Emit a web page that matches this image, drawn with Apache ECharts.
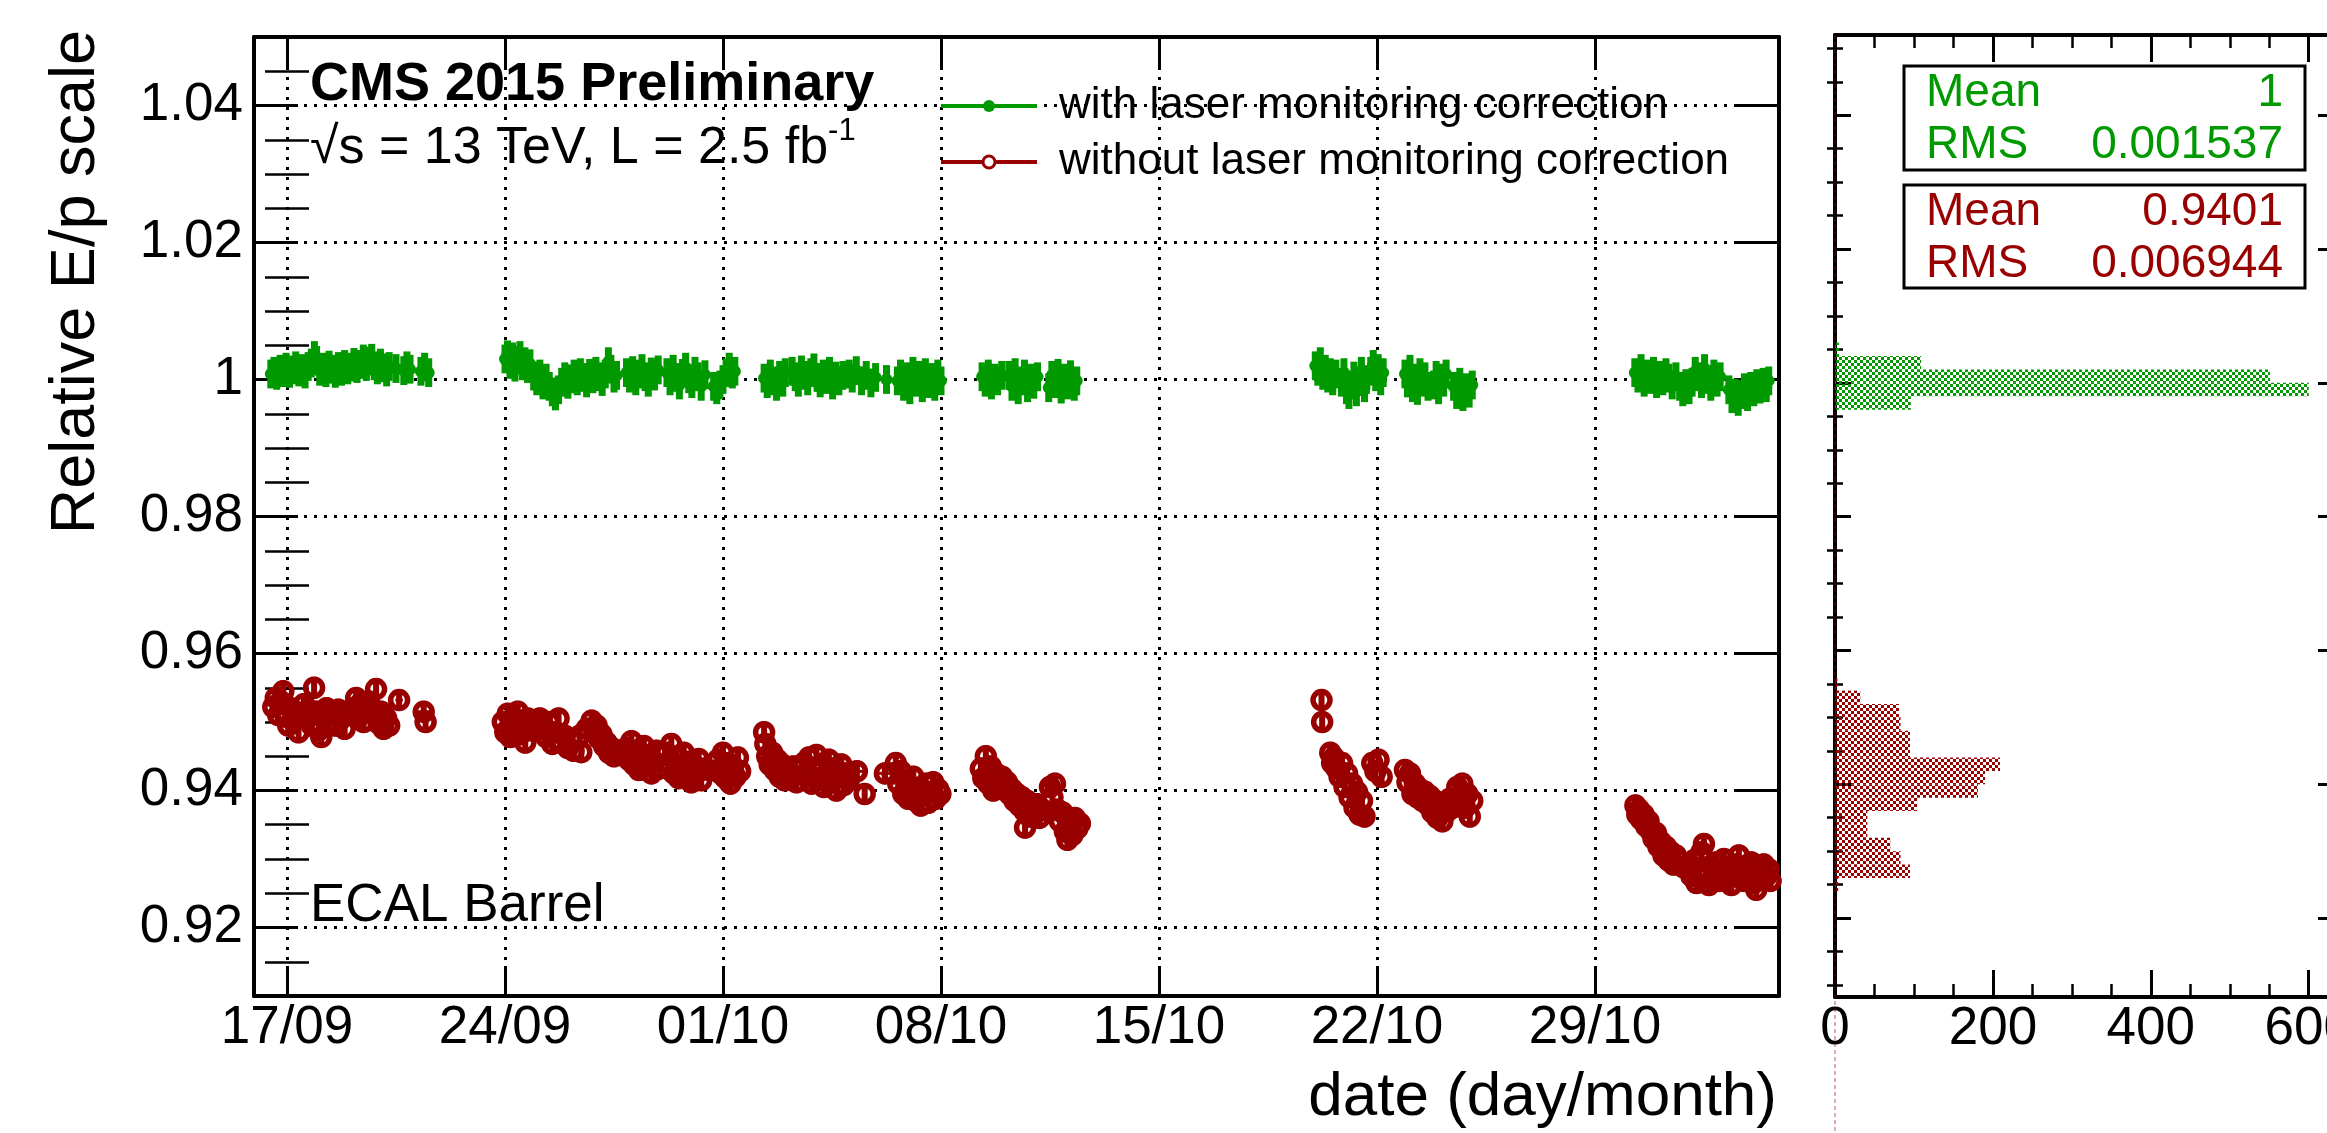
<!DOCTYPE html>
<html><head><meta charset="utf-8">
<script src="https://cdn.jsdelivr.net/npm/echarts@6/dist/echarts.min.js"></script>
<style>html,body{margin:0;padding:0;background:#fff}#c{width:2327px;height:1133px}</style>
</head><body><div id="c"></div>
<script>
// ---------- axes / ticks (days counted from 17/09/2015 00:00) ----------
const TICK_DAYS   = [0, 7, 14, 21, 28, 35, 42];
const TICK_LABELS = ['17/09', '24/09', '01/10', '08/10', '15/10', '22/10', '29/10'];
const X_RANGE = [-1.06, 47.91];
const Y_RANGE = [0.91, 1.05];
const Y_MAJOR = [0.92, 0.94, 0.96, 0.98, 1.00, 1.02, 1.04];
const Y_MINOR = [0.915, 0.925, 0.93, 0.935, 0.945, 0.95, 0.955, 0.965, 0.97, 0.975, 0.985, 0.99, 0.995,
                 1.005, 1.01, 1.015, 1.025, 1.03, 1.035, 1.045];
const HIST_Y_RANGE = [0.9082, 1.0520];
const HIST_Y_MINOR = [0.91, 0.915, 0.925, 0.93, 0.935, 0.945, 0.95, 0.955, 0.965, 0.97, 0.975, 0.985, 0.99, 0.995,
                      1.005, 1.01, 1.015, 1.025, 1.03, 1.035, 1.045, 1.05];
const HIST_X_RANGE = [0, 632];
const HIST_X_INTERVAL = 200;

// ---------- series names, stats ----------
const NAME_GREEN = 'with laser monitoring correction';
const NAME_RED = 'without laser monitoring correction';
const STAT_LABELS = ['Mean', 'RMS'];
const GREEN_STATS = ['1', '0.001537'];
const RED_STATS = ['0.9401', '0.006944'];

// ---------- measurements: [day, E/p, (optional x half-width)] ----------
const GREEN_ERR = 0.0021;
const RED_ERR = 0.0016;

const GREEN_1 = [[-0.52,1.0008],[-0.42,1.0012],[-0.33,1.0006],[-0.22,1.0015],[-0.12,1.0010],[-0.03,1.0018],[0.08,1.0009],[0.18,1.0014],
 [0.28,1.0020],[0.38,1.0011],[0.48,1.0016],[0.58,1.0008],[0.68,1.0019],[0.78,1.0024],[0.88,1.0035],[0.95,1.0028],[1.05,1.0012],
 [1.15,1.0018],[1.25,1.0010],[1.35,1.0021],[1.45,1.0015],[1.55,1.0009],[1.65,1.0019],[1.75,1.0012],[1.85,1.0022],[1.95,1.0014],
 [2.05,1.0018],[2.15,1.0025],[2.25,1.0016],[2.35,1.0022],[2.45,1.0030],[2.55,1.0019],[2.65,1.0027],[2.72,1.0031],[2.80,1.0020],
 [2.90,1.0014],[3.00,1.0024],[3.10,1.0017],[3.20,1.0011],[3.28,1.0019],[3.50,1.0016,0.12],[3.75,1.0013],[3.85,1.0020],[3.95,1.0015],
 [4.30,1.0012],[4.42,1.0018],[4.55,1.0010]];
const GREEN_2 = [[7.00,1.0030],[7.08,1.0036],[7.16,1.0022],[7.24,1.0033],[7.32,1.0018],[7.40,1.0028],[7.48,1.0035],[7.56,1.0020],
 [7.64,1.0026],[7.72,1.0016],[7.80,1.0023],[7.92,1.0005],[8.02,0.9998],[8.12,1.0008],[8.22,0.9992],[8.32,1.0002],[8.42,0.9990],
 [8.52,0.9982],[8.62,0.9976],[8.72,0.9985],[8.82,0.9996],[8.92,1.0004],[9.02,0.9993],[9.12,1.0001],[9.22,1.0008],[9.32,0.9998],
 [9.42,1.0010],[9.52,1.0003],[9.62,0.9995],[9.72,1.0009],[9.82,1.0001],[9.92,1.0012],[10.02,1.0004],[10.12,0.9997],[10.22,1.0008],
 [10.32,1.0026],[10.40,1.0015],[10.50,1.0002],[10.58,1.0006],[10.90,1.0010],[11.00,1.0002],[11.10,1.0013],[11.20,0.9998],
 [11.30,1.0008],[11.40,1.0016],[11.50,1.0004],[11.60,0.9996],[11.70,1.0011],[11.80,1.0005],[11.92,1.0014],[12.20,1.0010],
 [12.30,0.9998],[12.40,1.0015],[12.50,1.0003],[12.60,0.9992],[12.70,1.0009],[12.80,1.0018],[12.90,1.0001],[13.00,0.9994],
 [13.10,1.0012],[13.20,1.0004],[13.30,0.9990],[13.42,1.0007],[13.70,0.9990],[13.80,0.9985],[13.90,0.9992],[14.00,1.0000],
 [14.10,1.0010],[14.20,1.0018],[14.30,1.0008],[14.38,1.0012]];
const GREEN_3 = [[15.32,1.0002],[15.42,0.9994],[15.52,1.0008],[15.62,0.9998],[15.72,0.9990],[15.82,1.0006],[15.92,0.9996],
 [16.00,1.0010],[16.22,1.0012],[16.32,1.0004],[16.42,0.9996],[16.52,1.0014],[16.62,1.0006],[16.72,0.9998],[16.82,1.0010],
 [16.92,1.0017],[17.02,1.0003],[17.12,0.9995],[17.22,1.0008],[17.32,1.0000],[17.42,1.0012],[17.52,0.9992],[17.62,1.0005],
 [17.72,0.9998],[17.85,1.0006],[18.05,1.0008],[18.15,1.0002],[18.28,1.0013,0.1],[18.45,0.9998],[18.60,1.0006],[18.75,0.9995],
 [18.90,1.0003],[19.25,1.0000,0.33],[19.60,0.9998],[19.70,1.0008],[19.80,0.9990],[19.90,1.0004],[20.00,0.9985],[20.10,1.0012],
 [20.20,0.9996],[20.30,1.0006],[20.40,0.9988],[20.50,1.0010],[20.60,0.9994],[20.70,1.0003],[20.80,0.9990],[20.90,1.0008],
 [21.00,0.9998]];
const GREEN_4 = [[22.32,1.0004],[22.42,0.9996],[22.52,1.0008],[22.62,0.9992],[22.72,1.0002],[22.82,0.9998],[22.95,1.0006],
 [23.18,1.0006],[23.28,0.9990],[23.38,1.0010],[23.48,0.9985],[23.58,0.9998],[23.68,1.0008],[23.78,0.9988],[23.88,1.0002],
 [23.98,0.9993],[24.10,1.0004],[24.46,0.9988],[24.56,1.0006],[24.66,0.9994],[24.76,1.0009],[24.86,0.9986],[24.96,1.0002],
 [25.06,0.9992],[25.16,1.0007],[25.28,0.9990],[25.36,0.9998]];
const GREEN_5 = [[33.02,1.0020],[33.10,1.0012],[33.18,1.0026],[33.26,1.0006],[33.34,1.0015],[33.42,1.0002],[33.50,1.0010],
 [33.58,0.9998],[33.68,1.0008],[33.86,0.9996],[33.94,1.0010],[34.02,0.9985],[34.10,0.9978],[34.18,0.9992],[34.26,1.0005],
 [34.34,0.9982],[34.42,0.9998],[34.50,1.0012],[34.60,0.9988],[34.66,1.0000],[34.80,1.0012],[34.88,1.0022],[34.96,1.0004],
 [35.04,1.0016],[35.12,0.9998],[35.20,1.0010]];
const GREEN_6 = [[35.90,1.0008],[35.98,0.9995],[36.06,1.0015],[36.14,0.9988],[36.22,1.0002],[36.30,0.9984],[36.38,1.0010],
 [36.46,0.9996],[36.54,1.0004],[36.64,0.9990],[36.82,0.9992],[36.90,1.0006],[36.98,0.9985],[37.06,1.0002],[37.14,0.9996],
 [37.22,1.0008],[37.46,0.9990],[37.56,0.9978],[37.66,0.9996],[37.76,0.9975],[37.86,0.9988],[37.96,0.9980],[38.06,0.9992]];
const GREEN_7 = [[43.28,1.0010],[43.38,1.0002],[43.48,1.0016],[43.58,0.9996],[43.68,1.0008],[43.78,1.0000],[43.88,1.0012],
 [43.98,0.9994],[44.08,1.0006],[44.18,0.9998],[44.28,1.0010],[44.38,1.0002],[44.48,0.9992],[44.60,1.0004],[44.72,0.9990],
 [44.82,0.9982],[44.92,0.9994],[45.02,0.9985],[45.12,0.9996],[45.22,1.0012],[45.32,1.0004],[45.42,0.9994],[45.52,1.0016],
 [45.62,1.0000],[45.72,0.9990],[45.82,1.0008],[45.92,0.9996],[46.02,1.0004],[46.30,0.9985],[46.40,0.9972],[46.50,0.9980],
 [46.60,0.9968],[46.70,0.9978],[46.80,0.9988],[46.90,0.9975],[47.00,0.9990],[47.10,0.9982],[47.20,0.9994],[47.30,0.9986],
 [47.40,0.9996],[47.50,0.9988],[47.58,0.9998]];

const RED_1 = [[-0.44,0.9522],[-0.36,0.9535],[-0.28,0.9510],[-0.20,0.9530],[-0.12,0.9545],[-0.04,0.9508],[0.04,0.9495],
 [0.12,0.9520],[0.20,0.9502],[0.28,0.9515],[0.37,0.9485],[0.45,0.9512],[0.54,0.9526],[0.62,0.9505],[0.70,0.9518],[0.80,0.9495],
 [0.87,0.9550],[0.95,0.9515],[1.02,0.9488],[1.10,0.9478],[1.18,0.9508],[1.27,0.9520],[1.36,0.9500],[1.45,0.9512],[1.55,0.9495],
 [1.65,0.9518],[1.75,0.9505],[1.85,0.9490],[1.95,0.9512],[2.14,0.9520],[2.22,0.9535],[2.30,0.9508],[2.38,0.9528],[2.46,0.9500],
 [2.54,0.9518],[2.62,0.9530],[2.70,0.9522],[2.78,0.9512],[2.86,0.9548],[2.94,0.9498],[3.02,0.9515],[3.10,0.9490],[3.18,0.9506],
 [3.28,0.9495],[3.60,0.9532,0.12],[4.39,0.9515,0.3],[4.45,0.9500]];
const RED_2 = [[6.93,0.9500],[7.01,0.9485],[7.09,0.9512],[7.17,0.9478],[7.25,0.9505],[7.33,0.9490],[7.41,0.9515],[7.49,0.9482],
 [7.57,0.9498],[7.65,0.9470],[7.73,0.9505],[7.81,0.9488],[7.90,0.9495],[8.12,0.9505],[8.22,0.9490],[8.32,0.9478],[8.42,0.9500],
 [8.52,0.9468],[8.62,0.9485],[8.72,0.9505],[8.82,0.9470],[8.92,0.9480],[9.02,0.9462],[9.12,0.9475],[9.20,0.9458],[9.40,0.9480],
 [9.45,0.9456],[9.62,0.9490],[9.78,0.9502],[9.86,0.9488],[9.94,0.9495],[10.02,0.9476],[10.10,0.9482],[10.18,0.9465],[10.26,0.9470],
 [10.34,0.9455],[10.42,0.9462],[10.50,0.9450],[10.60,0.9458],[10.90,0.9462],[10.98,0.9445],[11.06,0.9472],[11.14,0.9438],
 [11.22,0.9455],[11.30,0.9430],[11.38,0.9448],[11.46,0.9465],[11.54,0.9435],[11.62,0.9452],[11.70,0.9425],[11.78,0.9442],
 [11.86,0.9458],[11.95,0.9432],[12.18,0.9455],[12.26,0.9440],[12.34,0.9468],[12.42,0.9425],[12.50,0.9448],[12.58,0.9418],
 [12.66,0.9438],[12.74,0.9455],[12.82,0.9420],[12.90,0.9442],[12.98,0.9412],[13.06,0.9435],[13.14,0.9425],[13.22,0.9446],
 [13.30,0.9415],[13.40,0.9432],[13.55,0.9430,0.12],[13.84,0.9445],[13.92,0.9425],[14.00,0.9455],[14.08,0.9418],[14.16,0.9440],
 [14.24,0.9410],[14.32,0.9435],[14.40,0.9420],[14.48,0.9448],[14.55,0.9428]];
const RED_3 = [[15.32,0.9485],[15.36,0.9468],[15.42,0.9450],[15.50,0.9438],[15.58,0.9455],[15.66,0.9430],[15.74,0.9445],
 [15.82,0.9420],[15.90,0.9438],[15.98,0.9415],[16.06,0.9432],[16.16,0.9418],[16.26,0.9435],[16.36,0.9412],[16.60,0.9440],
 [16.68,0.9420],[16.76,0.9448],[16.84,0.9410],[16.92,0.9430],[17.00,0.9452],[17.08,0.9415],[17.16,0.9438],[17.24,0.9405],
 [17.32,0.9425],[17.40,0.9445],[17.48,0.9412],[17.56,0.9432],[17.64,0.9400],[17.72,0.9420],[17.80,0.9438],[17.88,0.9408],
 [17.96,0.9425],[18.04,0.9415],[18.30,0.9428,0.2],[18.55,0.9395],[19.20,0.9425,0.3],[19.45,0.9425],[19.55,0.9440],[19.63,0.9410],
 [19.71,0.9428],[19.79,0.9395],[19.87,0.9415],[19.95,0.9388],[20.03,0.9405],[20.11,0.9420],[20.19,0.9385],[20.27,0.9400],
 [20.35,0.9378],[20.43,0.9395],[20.51,0.9410],[20.59,0.9382],[20.67,0.9398],[20.75,0.9412],[20.83,0.9388],[20.91,0.9402],
 [20.98,0.9395]];
const RED_4 = [[22.28,0.9432],[22.36,0.9418],[22.44,0.9450],[22.52,0.9410],[22.60,0.9435],[22.68,0.9400],[22.76,0.9425],
 [22.84,0.9405],[22.96,0.9420],[23.04,0.9405],[23.12,0.9412],[23.20,0.9395],[23.28,0.9402],[23.36,0.9385],[23.44,0.9395],
 [23.52,0.9378],[23.60,0.9390],[23.68,0.9370],[23.70,0.9346],[23.76,0.9385],[23.84,0.9362],[23.92,0.9378],[24.00,0.9365],
 [24.08,0.9380],[24.16,0.9360],[24.26,0.9372],[24.50,0.9405],[24.58,0.9390],[24.66,0.9410],[24.74,0.9372],[24.82,0.9355],
 [24.90,0.9368],[24.98,0.9340],[25.06,0.9328],[25.14,0.9350],[25.22,0.9335],[25.30,0.9360],[25.38,0.9345],[25.46,0.9352]];
const RED_5 = [[33.22,0.9532],[33.24,0.9500],[33.50,0.9455],[33.56,0.9440],[33.62,0.9448],[33.70,0.9432],[33.80,0.9420],
 [33.88,0.9440],[33.96,0.9405],[34.04,0.9425],[34.12,0.9390],[34.20,0.9410],[34.28,0.9375],[34.36,0.9398],[34.44,0.9365],
 [34.52,0.9385],[34.60,0.9362],[34.85,0.9440],[34.95,0.9428],[35.05,0.9445],[35.15,0.9420]];
const RED_6 = [[35.90,0.9430],[35.98,0.9412],[36.06,0.9425],[36.14,0.9395],[36.22,0.9410],[36.30,0.9390],[36.38,0.9402],
 [36.46,0.9385],[36.54,0.9398],[36.62,0.9380],[36.70,0.9392],[36.78,0.9368],[36.86,0.9385],[36.94,0.9360],[37.02,0.9375],
 [37.10,0.9355],[37.18,0.9382],[37.26,0.9370],[37.34,0.9388],[37.44,0.9375],[37.58,0.9405],[37.66,0.9390],[37.74,0.9410],
 [37.82,0.9375],[37.90,0.9395],[37.98,0.9362],[38.06,0.9385]];
const RED_7 = [[43.30,0.9378],[43.36,0.9365],[43.42,0.9372],[43.48,0.9358],[43.56,0.9365],[43.64,0.9348],[43.72,0.9355],
 [43.80,0.9340],[43.88,0.9330],[43.96,0.9338],[44.04,0.9318],[44.12,0.9325],[44.20,0.9305],[44.28,0.9318],[44.36,0.9298],
 [44.44,0.9310],[44.52,0.9292],[44.60,0.9305],[44.85,0.9288,0.12],[45.02,0.9290],[45.10,0.9275],[45.18,0.9298],[45.26,0.9265],
 [45.34,0.9285],[45.42,0.9310],[45.50,0.9322],[45.58,0.9280],[45.66,0.9262],[45.74,0.9290],[45.82,0.9272],[45.90,0.9295],
 [45.98,0.9268],[46.06,0.9285],[46.14,0.9300],[46.22,0.9270],[46.30,0.9288],[46.38,0.9262],[46.46,0.9292],[46.54,0.9275],
 [46.62,0.9305],[46.70,0.9282],[46.78,0.9268],[46.86,0.9290],[46.94,0.9278],[47.02,0.9295],[47.10,0.9265],[47.18,0.9255],
 [47.26,0.9285],[47.34,0.9270],[47.42,0.9292],[47.50,0.9275],[47.58,0.9285],[47.64,0.9268]];

// ---------- projection histograms (bin low edge, entries) ----------
const HIST_BIN = 0.002;
const HIST_GREEN_LOW   = [0.996, 0.998, 1.000, 1.002, 1.004];
const HIST_GREEN_COUNT = [96, 600, 551, 109, 5];
const HIST_RED_LOW   = [0.924, 0.926, 0.928, 0.930, 0.932, 0.934, 0.936, 0.938, 0.940, 0.942, 0.944, 0.946, 0.948, 0.950, 0.952, 0.954];
const HIST_RED_COUNT = [4, 95, 83, 70, 41, 41, 104, 181, 190, 209, 95, 95, 83, 81, 32, 3];

// ---------- build ----------
const GREEN = '#009900', RED = '#990000', FONT = 'Liberation Sans, Arial, Helvetica, sans-serif';
const greenPts = [].concat(GREEN_1, GREEN_2, GREEN_3, GREEN_4, GREEN_5, GREEN_6, GREEN_7);
const redPts = [].concat(RED_1, RED_2, RED_3, RED_4, RED_5, RED_6, RED_7);
const histGreen = HIST_GREEN_LOW.map((lo, i) => [lo, HIST_GREEN_COUNT[i]]);
const histRed = HIST_RED_LOW.map((lo, i) => [lo, HIST_RED_COUNT[i]]);

function pattern(color) {
  const c = document.createElement('canvas'); c.width = 6; c.height = 6;
  const g = c.getContext('2d'); g.fillStyle = color;
  g.fillRect(0, 0, 3, 3); g.fillRect(3, 3, 3, 3);
  return { image: c, repeat: 'repeat' };
}
function errBars(color, err, lw) {
  return function (params, api) {
    const d = api.value(0), v = api.value(1), ex = api.value(2);
    const a = api.coord([d, v - err]), b = api.coord([d, v + err]);
    const ch = [{ type: 'line', shape: { x1: a[0], y1: a[1], x2: b[0], y2: b[1] }, style: { stroke: color, lineWidth: lw } }];
    if (ex > 0) {
      const l = api.coord([d - ex, v]), r = api.coord([d + ex, v]);
      ch.push({ type: 'line', shape: { x1: l[0], y1: l[1], x2: r[0], y2: r[1] }, style: { stroke: color, lineWidth: 3 } });
    }
    return { type: 'group', children: ch };
  };
}
function histBars(fill) {
  return function (params, api) {
    const lo = api.value(0), n = api.value(1);
    const p0 = api.coord([0, lo + HIST_BIN]), p1 = api.coord([n, lo]);
    return { type: 'rect', shape: { x: p0[0], y: p0[1], width: p1[0] - p0[0], height: p1[1] - p0[1] }, style: { fill: fill } };
  };
}

const axisLine = { show: true, onZero: false, lineStyle: { color: '#000', width: 4 } };
const tickStyle = { color: '#000', width: 3 };
const dotted = { show: true, lineStyle: { color: '#000', width: 3, type: [3, 7] } };
const lab = { fontSize: 53, color: '#000', fontFamily: FONT };

function mainX(pos, withLabels) {
  return {
    type: 'value', gridIndex: 0, position: pos, min: X_RANGE[0], max: X_RANGE[1],
    axisLine: axisLine,
    axisTick: { show: true, inside: true, length: 30, lineStyle: tickStyle, customValues: TICK_DAYS },
    axisLabel: withLabels ? Object.assign({ show: true, margin: 6, customValues: TICK_DAYS,
      formatter: v => TICK_LABELS[TICK_DAYS.indexOf(Math.round(v))] || '' }, lab) : { show: false },
    splitLine: withLabels ? dotted : { show: false }
  };
}
function yAx(grid, pos, range, values, len, major, labels, line) {
  return {
    type: 'value', gridIndex: grid, position: pos, min: range[0], max: range[1],
    axisLine: line ? axisLine : { show: false },
    axisTick: { show: true, inside: true, length: len, lineStyle: { color: '#000', width: major ? 3 : 2.5 }, customValues: values },
    axisLabel: labels ? Object.assign({ show: true, margin: 11, customValues: values,
      formatter: v => (Math.abs(v - 1) < 1e-9 ? '1' : v.toFixed(2)) }, lab) : { show: false },
    splitLine: labels ? dotted : { show: false }
  };
}
function histX(pos, withLabels) {
  return {
    type: 'value', gridIndex: 1, position: pos, min: HIST_X_RANGE[0], max: HIST_X_RANGE[1], interval: HIST_X_INTERVAL,
    axisLine: axisLine,
    axisTick: { show: true, inside: true, length: 27, lineStyle: tickStyle },
    minorTick: { show: true, splitNumber: 4, length: 13, lineStyle: { color: '#000', width: 2.5 } },
    axisLabel: withLabels ? Object.assign({ show: true, margin: 6 }, lab) : { show: false },
    splitLine: { show: false }
  };
}

const chart = echarts.init(document.getElementById('c'), null, { renderer: 'canvas' });
const txt = (id, x, y, text, size, color, align, extra) => ({
  id: id, type: 'text', x: x, y: y, z: 50,
  style: Object.assign({ text: text, fontSize: size, fontFamily: FONT, fill: color, align: align || 'left', verticalAlign: 'middle' }, extra || {})
});

chart.setOption({
  animation: false,
  textStyle: { fontFamily: FONT },
  grid: [
    { left: 254, top: 37, width: 1525, height: 959, containLabel: false, outerBoundsMode: 'none' },
    { left: 1835, top: 35, width: 499, height: 962, containLabel: false, outerBoundsMode: 'none' }
  ],
  xAxis: [mainX('bottom', true), mainX('top', false), histX('bottom', true), histX('top', false)],
  yAxis: [
    yAx(0, 'left', Y_RANGE, Y_MAJOR, 44, true, true, true),
    yAx(0, 'left', Y_RANGE, Y_MINOR, 22, false, false, false),
    yAx(0, 'right', Y_RANGE, Y_MAJOR, 44, true, false, true),
    yAx(0, 'right', Y_RANGE, Y_MINOR, 22, false, false, false),
    yAx(1, 'left', HIST_Y_RANGE, Y_MAJOR, 16, true, false, true),
    yAx(1, 'left', HIST_Y_RANGE, HIST_Y_MINOR, 8, false, false, false),
    yAx(1, 'right', HIST_Y_RANGE, Y_MAJOR, 16, true, false, true),
    yAx(1, 'right', HIST_Y_RANGE, HIST_Y_MINOR, 8, false, false, false)
  ],
  legend: {
    left: 939, top: 81, orient: 'vertical', padding: 0, itemWidth: 96, itemHeight: 15, itemGap: 6,
    selectedMode: false,
    textStyle: { fontSize: 44, color: '#000', fontFamily: FONT, lineHeight: 50, padding: [0, 0, 0, 17] },
    data: [
      { name: NAME_GREEN, itemStyle: { color: GREEN, borderWidth: 0 }, lineStyle: { color: GREEN, width: 4, opacity: 1 } },
      { name: NAME_RED, itemStyle: { color: '#fff', borderColor: RED, borderWidth: 3 }, lineStyle: { color: RED, width: 4, opacity: 1 } }
    ]
  },
  series: [
    { type: 'custom', name: 'gerr', xAxisIndex: 0, yAxisIndex: 0, silent: true, z: 2, clip: true,
      dimensions: ['d', 'v', 'ex'], encode: { x: 0, y: 1 }, data: greenPts, renderItem: errBars(GREEN, GREEN_ERR, 7) },
    { type: 'line', name: NAME_GREEN, xAxisIndex: 0, yAxisIndex: 0, silent: true, z: 3, data: greenPts,
      encode: { x: 0, y: 1 }, symbol: 'circle', symbolSize: 12, showSymbol: true, showAllSymbol: true,
      itemStyle: { color: GREEN }, lineStyle: { opacity: 0, width: 0 }, emphasis: { disabled: true } },
    { type: 'custom', name: 'rerr', xAxisIndex: 0, yAxisIndex: 0, silent: true, z: 2, clip: true,
      dimensions: ['d', 'v', 'ex'], encode: { x: 0, y: 1 }, data: redPts, renderItem: errBars(RED, RED_ERR, 6) },
    { type: 'line', name: NAME_RED, xAxisIndex: 0, yAxisIndex: 0, silent: true, z: 3, data: redPts,
      encode: { x: 0, y: 1 }, symbol: 'circle', symbolSize: 17, showSymbol: true, showAllSymbol: true,
      itemStyle: { color: 'rgba(0,0,0,0)', borderColor: RED, borderWidth: 5.5 }, lineStyle: { opacity: 0, width: 0 },
      emphasis: { disabled: true } },
    { type: 'custom', name: 'hg', xAxisIndex: 2, yAxisIndex: 4, silent: true, z: 2, data: histGreen,
      renderItem: histBars(pattern(GREEN)) },
    { type: 'custom', name: 'hr', xAxisIndex: 2, yAxisIndex: 4, silent: true, z: 2, data: histRed,
      renderItem: histBars(pattern(RED)) }
  ],
  graphic: { elements: [
    { id: 'ytitle', type: 'text', x: 77, y: 30, rotation: Math.PI / 2, z: 50,
      style: { text: 'Relative E/p scale', fontSize: 63, fontFamily: FONT, fill: '#000', align: 'right', verticalAlign: 'middle' } },
    txt('xtitle', 1777, 1098, 'date (day/month)', 62, '#000', 'right'),
    txt('cms', 310, 85, 'CMS 2015 Preliminary', 54, '#000', 'left', { fontWeight: 'bold' }),
    { id: 'lumi', type: 'text', x: 310, y: 149, z: 50, style: {
        text: '{n|√s = 13 TeV, L = 2.5 fb}{s|-1}', verticalAlign: 'middle', align: 'left',
        rich: { n: { fontSize: 52, fontFamily: FONT, fill: '#000', lineHeight: 66 },
                s: { fontSize: 31, fontFamily: FONT, fill: '#000', lineHeight: 30, verticalAlign: 'top' } } } },
    txt('ecal', 310, 906, 'ECAL Barrel', 53, '#000', 'left'),
    { id: 'box1', type: 'rect', z: 40, shape: { x: 1904, y: 66, width: 401, height: 104 }, style: { fill: '#fff', stroke: '#000', lineWidth: 3 } },
    { id: 'box2', type: 'rect', z: 40, shape: { x: 1904, y: 185, width: 401, height: 103 }, style: { fill: '#fff', stroke: '#000', lineWidth: 3 } },
    txt('g1', 1926, 93, STAT_LABELS[0], 46, GREEN), txt('g2', 2283, 93, GREEN_STATS[0], 46, GREEN, 'right'),
    txt('g3', 1926, 145, STAT_LABELS[1], 46, GREEN), txt('g4', 2283, 145, GREEN_STATS[1], 46, GREEN, 'right'),
    txt('r1', 1926, 212, STAT_LABELS[0], 46, RED), txt('r2', 2283, 212, RED_STATS[0], 46, RED, 'right'),
    txt('r3', 1926, 264, STAT_LABELS[1], 46, RED), txt('r4', 2283, 264, RED_STATS[1], 46, RED, 'right')
  ] }
});
const x0 = chart.convertToPixel({ xAxisIndex: 2 }, 0);
chart.setOption({ graphic: { elements: [
  { id: 'zeroline', type: 'line', z: 60, shape: { x1: x0, y1: 35, x2: x0, y2: 1133 },
    style: { stroke: 'rgba(153,0,0,0.55)', lineWidth: 1.2, lineDash: [4, 3] } }
] } });
</script></b​ody></html>
